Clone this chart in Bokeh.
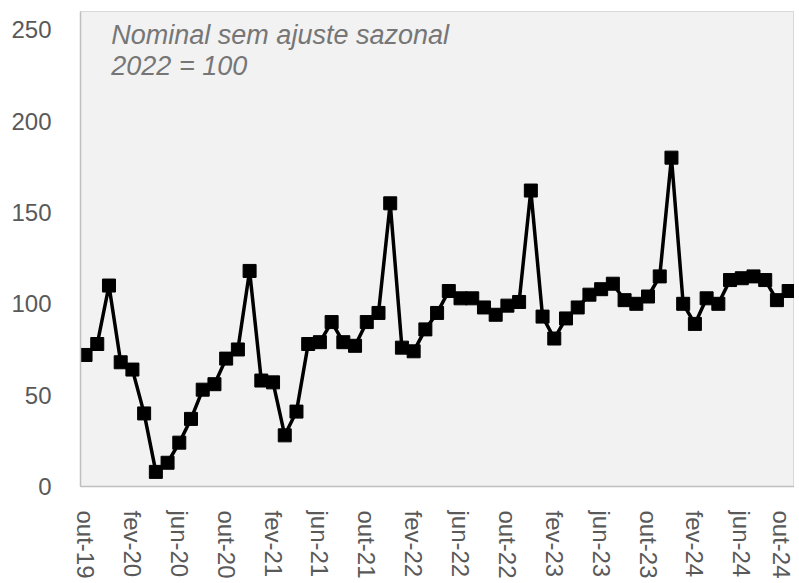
import math
from bokeh.plotting import figure
from bokeh.models import Range1d, FixedTicker, Label, ColumnDataSource
from bokeh.embed import file_html
from bokeh.resources import INLINE

months = ["out-19","nov-19","dez-19","jan-20","fev-20","mar-20","abr-20","mai-20","jun-20","jul-20","ago-20","set-20",
          "out-20","nov-20","dez-20","jan-21","fev-21","mar-21","abr-21","mai-21","jun-21","jul-21","ago-21","set-21",
          "out-21","nov-21","dez-21","jan-22","fev-22","mar-22","abr-22","mai-22","jun-22","jul-22","ago-22","set-22",
          "out-22","nov-22","dez-22","jan-23","fev-23","mar-23","abr-23","mai-23","jun-23","jul-23","ago-23","set-23",
          "out-23","nov-23","dez-23","jan-24","fev-24","mar-24","abr-24","mai-24","jun-24","jul-24","ago-24","set-24",
          "out-24"]
values = [72, 78, 110, 68, 64, 40, 8, 13, 24, 37, 53, 56,
          70, 75, 118, 58, 57, 28, 41, 78, 79, 90, 79, 77,
          90, 95, 155, 76, 74, 86, 95, 107, 103, 103, 98, 94,
          99, 101, 162, 93, 81, 92, 98, 105, 108, 111, 102, 100,
          104, 115, 180, 100, 89, 103, 100, 113, 114, 115, 113, 102,
          107]
tick_idx = list(range(0, 61, 4))
y_ticks = [0, 50, 100, 150, 200, 250]
note_lines = ["Nominal sem ajuste sazonal", "2022 = 100"]

x = list(range(len(values)))
src = ColumnDataSource(dict(x=x, y=values))

p = figure(width=794, height=581, output_backend="svg", toolbar_location=None,
           x_range=Range1d(-0.43, 60.5), y_range=Range1d(0, 260),
           min_border_left=80, min_border_top=11, min_border_right=0, min_border_bottom=90)
p.background_fill_color = "#f2f2f2"
p.border_fill_color = "white"
p.outline_line_color = "#d9d9d9"
p.grid.visible = False

p.line("x", "y", source=src, line_color="black", line_width=3.5)
p.scatter("x", "y", source=src, marker="square", size=13, fill_color="black", line_color="black")

p.xaxis.ticker = FixedTicker(ticks=tick_idx)
p.xaxis.major_label_overrides = {i: months[i] for i in tick_idx}
p.xaxis.major_label_orientation = -math.pi / 2
p.yaxis.ticker = FixedTicker(ticks=y_ticks)
for ax in (p.xaxis, p.yaxis):
    ax.major_tick_line_color = None
    ax.minor_tick_line_color = None
    ax.axis_line_color = "#bfbfbf"
    ax.axis_line_width = 1.5
    ax.major_label_text_font = "Liberation Sans"
    ax.major_label_text_font_size = "24px"
    ax.major_label_text_color = "#595959"
p.yaxis.major_label_standoff = 23
p.xaxis.major_label_standoff = 18

for i, t in enumerate(note_lines):
    p.add_layout(Label(x=2.2, y=255.6 - i * 17.2, text=t, text_font="Liberation Sans",
                       text_font_style="italic", text_font_size="27px", text_color="#767676",
                       text_baseline="top"))

open("out.html", "w").write(file_html(p, INLINE))
